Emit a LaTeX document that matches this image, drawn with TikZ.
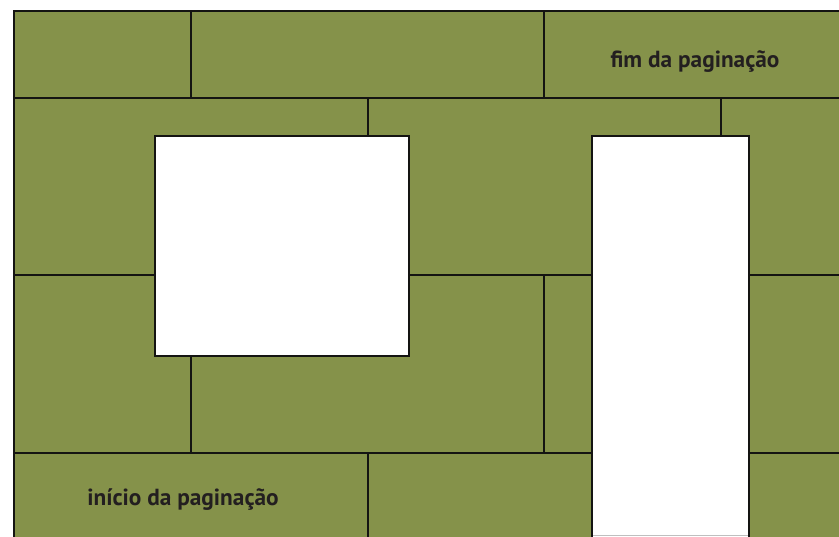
\documentclass[tikz,border=0pt]{standalone}
\usepackage{fontspec}
\setmainfont{PT Sans}
\definecolor{olivefill}{RGB}{133,146,74}
\definecolor{wallcol}{RGB}{20,20,18}
\definecolor{labelcol}{RGB}{35,31,32}
\begin{document}
\begin{tikzpicture}[x=1pt,y=-1pt,
  wall/.style={line width=2.2pt, draw=wallcol, line cap=rect},
  lbl/.style={font=\bfseries\fontsize{23.3}{25}\selectfont, text=labelcol, inner sep=0pt}]
\useasboundingbox (0,0) rectangle (839,537);
\fill[white] (0,0) rectangle (839,537);
\fill[olivefill] (14,11) rectangle (839,537);
\fill[white] (155,136) rectangle (409,356);
\fill[white] (592,136) rectangle (749,537);
% outer edges
\draw[wall] (14,537) -- (14,11) -- (839,11);
\draw[wall] (14,98) -- (839,98);
\draw[wall] (191,11) -- (191,98);
\draw[wall] (544,11) -- (544,98);
\draw[wall] (368,98) -- (368,136);
\draw[wall] (721,98) -- (721,136);
% openings
\draw[wall] (155,136) rectangle (409,356);
\draw[wall] (592,537) -- (592,136) -- (749,136) -- (749,537);
\draw[gray!50, line width=0.8pt] (593,535) -- (748,535);
% middle rows
\draw[wall] (14,275) -- (155,275);
\draw[wall] (409,275) -- (592,275);
\draw[wall] (749,275) -- (839,275);
\draw[wall] (544,275) -- (544,453);
\draw[wall] (191,356) -- (191,453);
\draw[wall] (14,453) -- (592,453);
\draw[wall] (749,453) -- (839,453);
\draw[wall] (368,453) -- (368,537);
% labels
\node[lbl] (fim) at (695,62) {fim da paginação};
\node[lbl] (inicio) at (183,500) {início da paginação};
\end{tikzpicture}
\end{document}
